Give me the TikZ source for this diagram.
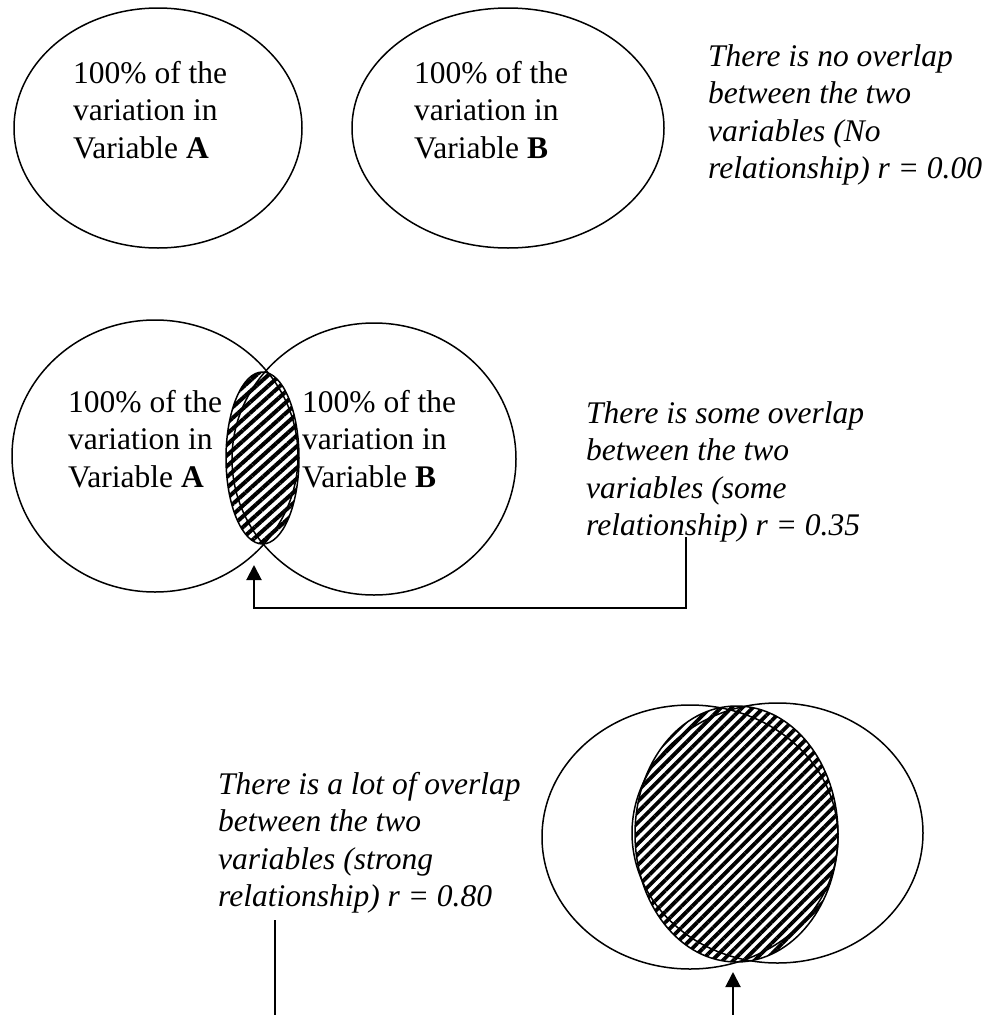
\documentclass[tikz,border=0pt]{standalone}
\usepackage{fontspec}
\setmainfont{Liberation Serif}
\usetikzlibrary{shapes.geometric,patterns.meta,arrows.meta}
\begin{document}
\begin{tikzpicture}[x=1pt,y=-1pt,
  venn/.style={ellipse,draw,line width=1.5pt,inner sep=0pt},
  hatch/.style={ellipse,draw,line width=1.5pt,inner sep=0pt,
    pattern={Lines[angle=#1,distance=8pt,line width=4pt]}},
  txt/.style={anchor=north west,align=left,inner sep=0pt,
    font=\fontsize{31.5}{37.5}\selectfont},
  notetxt/.style={anchor=north west,align=left,inner sep=0pt,
    font=\fontsize{31.5}{37.5}\selectfont\itshape},
  conn/.style={line width=2pt},
  tip/.style={-{Triangle[width=15pt,length=15pt]}},
]
\useasboundingbox (0,0) rectangle (989,1015);

% ---------- top row ----------
\node[venn,minimum width=288pt,minimum height=240pt] (A1) at (158,128) {};
\node[venn,minimum width=312pt,minimum height=240pt] (B1) at (508,128) {};
\node[txt] (tA1) at (73,61) {100\% of the\\variation in\\Variable \textbf{A}};
\node[txt] (tB1) at (414,61) {100\% of the\\variation in\\Variable \textbf{B}};
\node[notetxt] (n1) at (708,44) {There is no overlap\\between the two\\variables (No\\relationship) r = 0.00};

% ---------- middle row ----------
\node[venn,minimum width=286pt,minimum height=272pt] (A2) at (155,456) {};
\node[venn,minimum width=284pt,minimum height=272pt] (B2) at (374,459) {};
\node[hatch=42,minimum width=73pt,minimum height=172pt] (S2) at (262.5,458) {};
\node[txt] (tA2) at (68,390) {100\% of the\\variation in\\Variable \textbf{A}};
\node[txt] (tB2) at (302,390) {100\% of the\\variation in\\Variable \textbf{B}};
\node[notetxt] (n2) at (586,401) {There is some overlap\\between the two\\variables (some\\relationship) r = 0.35};
\coordinate (c2a) at (686,537);
\coordinate (c2t) at (254,565);
\draw[conn,tip] (c2a) -- (686,608) -| (c2t);

% ---------- bottom row ----------
\node[venn,minimum width=296pt,minimum height=264pt] (C1) at (690,837) {};
\node[venn,minimum width=291pt,minimum height=260pt] (C2) at (777.5,833) {};
\node[hatch=45,minimum width=203pt,minimum height=256pt,
  pattern={Lines[angle=45,distance=7.5pt,line width=3.8pt]}] (S3) at (736.5,834) {};
\node[notetxt] (n3) at (218,772) {There is a lot of overlap\\between the two\\variables (strong\\relationship) r = 0.80};
\coordinate (c3a) at (275,920);
\coordinate (c3b) at (275,1015);
\coordinate (c3c) at (733,1015);
\coordinate (c3t) at (733,972);
\draw[conn] (c3a) -- (c3b);
\draw[conn,tip] (c3c) -- (c3t);
\end{tikzpicture}
\end{document}
